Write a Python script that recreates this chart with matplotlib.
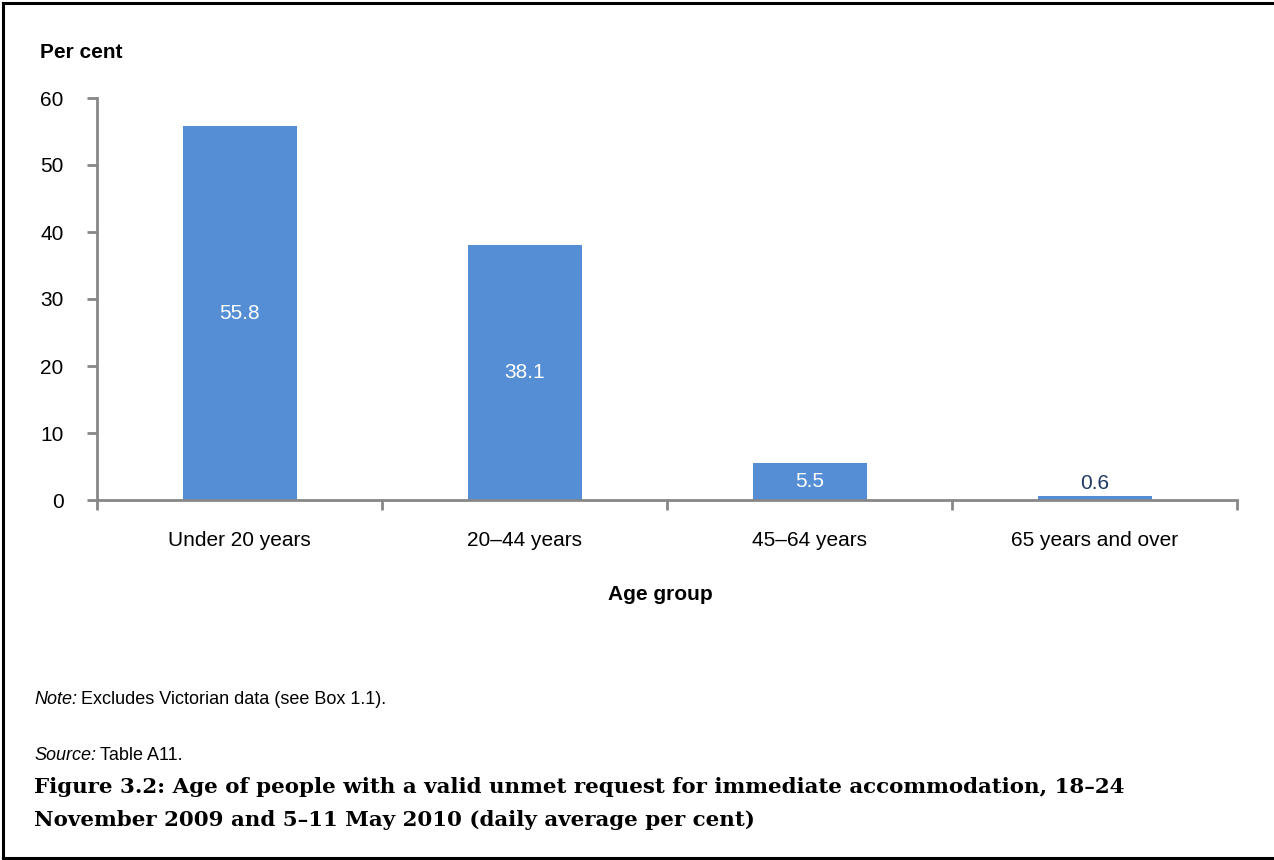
import matplotlib
matplotlib.use("Agg")
import matplotlib.pyplot as plt
from matplotlib.lines import Line2D

categories = ["Under 20 years", "20\u201344 years", "45\u201364 years", "65 years and over"]
values = [55.8, 38.1, 5.5, 0.6]
yticks = [0, 10, 20, 30, 40, 50, 60]

plt.rcParams['font.family'] = ['Liberation Sans', 'DejaVu Sans']

W, H = 1274, 860
fig = plt.figure(figsize=(W/100, H/100), dpi=100)
ax = fig.add_axes([97/W, 1 - 500/H, (1237 - 97)/W, (500 - 98)/H])

bar_color = '#558ED5'
x = list(range(len(categories)))
ax.bar(x, values, width=0.4, color=bar_color, zorder=2)

ax.set_xlim(-0.5, len(categories) - 0.5)
ax.set_ylim(0, 60)
ax.set_yticks(yticks)
ax.set_yticklabels([str(v) for v in yticks], fontsize=15)

ax.set_xticks(x)
ax.set_xticklabels(categories, fontsize=15)
ax.tick_params(axis='x', which='major', length=0, pad=22)
ax.set_xticks([i - 0.5 for i in range(len(categories) + 1)], minor=True)
ax.tick_params(axis='x', which='minor', length=7, width=2, color='#878787', direction='out')
ax.tick_params(axis='y', length=7, width=2, color='#878787', direction='out', pad=17)

for s in ['top', 'right']:
    ax.spines[s].set_visible(False)
for s in ['left', 'bottom']:
    ax.spines[s].set_color('#878787')
    ax.spines[s].set_linewidth(2)

for xi, v in zip(x, values):
    if v > 3:
        ax.text(xi, v / 2, f"{v}", ha='center', va='center', color='white', fontsize=15, zorder=3)
    else:
        ax.text(xi, v + 0.5, f"{v}", ha='center', va='bottom', color='#1F3864', fontsize=15, zorder=3)

fig.text(40/W, 1 - 52/H, "Per cent", fontsize=15, fontweight='bold', ha='left', va='center')
fig.text(660/W, 1 - 595/H, "Age group", fontsize=15, fontweight='bold', ha='center', va='center')

fig.canvas.draw()
r = fig.canvas.get_renderer()

def fit_size(txt, target_px, **kw):
    t = fig.text(0, 0, txt, fontsize=10, **kw)
    w = t.get_window_extent(r).width
    t.remove()
    return 10 * target_px / w

note_fs = fit_size("Note: Excludes Victorian data (see Box 1.1).", 363)
note_fs = min(note_fs, 13)
t1 = fig.text(34/W, 1 - 700/H, "Note:", fontsize=note_fs, style='italic', ha='left', va='center')
bb = t1.get_window_extent(r)
fig.text((bb.x1 + 4)/W, 1 - 700/H, "Excludes Victorian data (see Box 1.1).", fontsize=note_fs, ha='left', va='center')
t2 = fig.text(34/W, 1 - 755/H, "Source:", fontsize=note_fs, style='italic', ha='left', va='center')
bb2 = t2.get_window_extent(r)
fig.text((bb2.x1 + 4)/W, 1 - 755/H, "Table A11.", fontsize=note_fs, ha='left', va='center')

title_font = ['DejaVu Serif']
line1 = "Figure 3.2: Age of people with a valid unmet request for immediate accommodation, 18\u201324"
line2 = "November 2009 and 5\u201311 May 2010 (daily average per cent)"
tfs = fit_size(line1, 1094, fontweight='bold', family=title_font)
fig.text(34/W, 1 - 787/H, line1, fontsize=tfs, fontweight='bold', family=title_font, ha='left', va='center')
fig.text(34/W, 1 - 820/H, line2, fontsize=tfs, fontweight='bold', family=title_font, ha='left', va='center')

for xs, ys in [((2.5/W, 1), (1 - 2.5/H, 1 - 2.5/H)),
               ((2.5/W, 2.5/W), (1 - 2.5/H, 2.5/H)),
               ((2.5/W, 1), (2.5/H, 2.5/H))]:
    fig.add_artist(Line2D(xs, ys, transform=fig.transFigure, color='black', linewidth=2.2))

fig.savefig("out.png", dpi=100)
